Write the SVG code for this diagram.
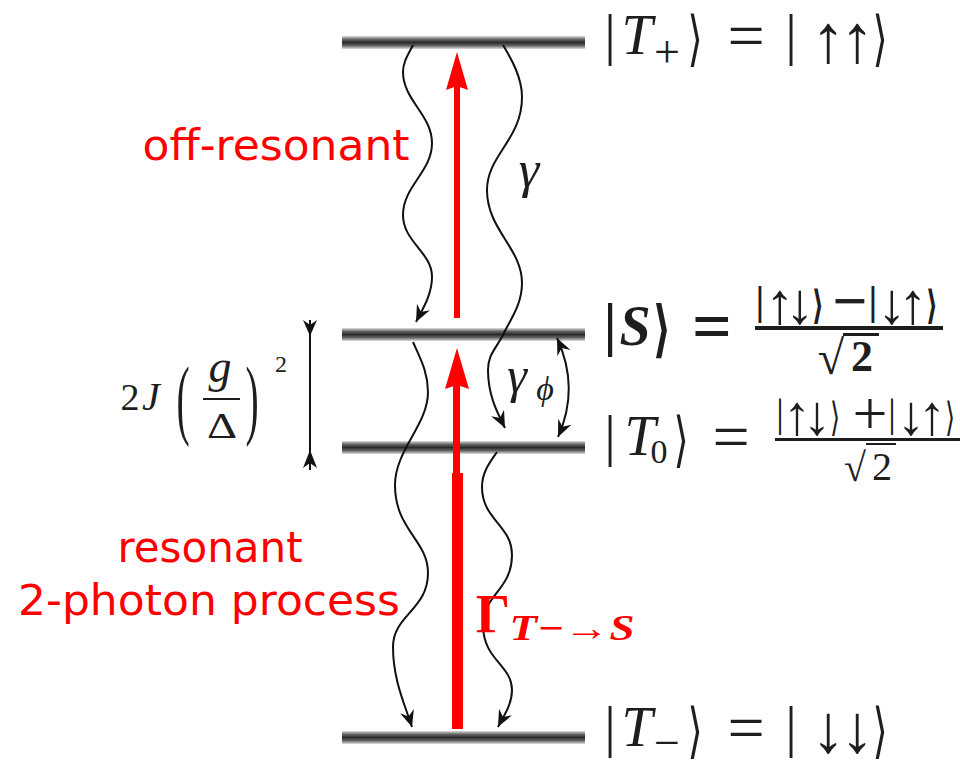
<svg xmlns="http://www.w3.org/2000/svg" width="960" height="760" viewBox="0 0 960 760">
<defs>
<linearGradient id="barg" x1="0" y1="0" x2="0" y2="1">
<stop offset="0" stop-color="#e0e0e0"/>
<stop offset="0.25" stop-color="#666"/>
<stop offset="0.5" stop-color="#2a2a2a"/>
<stop offset="0.75" stop-color="#666"/>
<stop offset="1" stop-color="#e0e0e0"/>
</linearGradient>
<marker id="ah" markerUnits="userSpaceOnUse" markerWidth="20" markerHeight="20" viewBox="-16 -8 18 16" refX="0" refY="0" orient="auto">
<path d="M0,0 L-15,-6.5 L-10,0 L-15,6.5 Z" fill="#111"/>
</marker>
<marker id="ahs" markerUnits="userSpaceOnUse" markerWidth="20" markerHeight="20" viewBox="-16 -8 18 16" refX="0" refY="0" orient="auto-start-reverse">
<path d="M0,0 L-15,-6.5 L-10,0 L-15,6.5 Z" fill="#111"/>
</marker>
</defs>
<style>
.bar{fill:url(#barg)}
.wave{fill:none;stroke:#111;stroke-width:2}
text{text-anchor:middle}
.m{font-family:"Liberation Serif","DejaVu Serif",serif;fill:#1e1e1e}
.br{font-family:"DejaVu Sans",sans-serif;fill:#1e1e1e}
.it{font-style:italic}
.b{font-weight:bold}
.red{font-family:"DejaVu Sans",sans-serif;fill:#ff0000}
.rm{font-family:"Liberation Serif","DejaVu Serif",serif;fill:#ff0000;font-weight:bold}
</style>
<rect width="960" height="760" fill="#fff"/>

<g id="level-Tplus"><rect class="bar" x="342" y="36" width="243" height="13"/></g>
<g id="level-S"><rect class="bar" x="342" y="328" width="243" height="13"/></g>
<g id="level-T0"><rect class="bar" x="342" y="441" width="243" height="13"/></g>
<g id="level-Tminus"><rect class="bar" x="342" y="731" width="243" height="13"/></g>

<g id="connectors">
<path class="wave" marker-end="url(#ah)" d="M413,45 C408,55 403,62 403,72 C403,100 432,115 432,143 C432,172 403,186 403,215 C403,242 432,252 432,277 C432,295 422,310 416,322"/>
<path class="wave" marker-end="url(#ah)" d="M503,45 C512,60 522,78 522,97 C522,140 487,155 487,190 C487,230 522,248 522,283 C522,305 510,320 503,335 C495,350 488,355 488,370 C488,395 497,412 505,428"/>
<path class="wave" marker-end="url(#ah)" d="M413,342 C420,358 428,372 428,392 C428,425 395,450 395,485 C395,530 428,540 428,573 C428,610 393,615 393,647 C393,680 405,705 412,727"/>
<path class="wave" marker-end="url(#ah)" d="M497,452 C490,462 482,472 482,487 C482,520 512,525 512,555 C512,590 483,595 483,625 C483,660 512,665 512,690 C512,705 503,717 498,727"/>
<path class="wave" marker-start="url(#ahs)" marker-end="url(#ahs)" d="M557,338 Q580,388 558,437"/>
<path fill="none" stroke="#111" stroke-width="2" d="M310,320 L310,470"/>
<path fill="#111" d="M310,336 L303,320 L310,325 L317,320 Z"/>
<path fill="#111" d="M310,450 L303,468 L310,463 L317,468 Z"/>
<path fill="none" stroke="#ff0000" stroke-width="6" d="M457,318 L457,85"/>
<path fill="#ff0000" d="M457,52 L468,90 L457,86 L446,90 Z"/>
<path fill="none" stroke="#ff0000" stroke-width="7" d="M456.5,475 L456.5,380"/>
<rect x="452" y="473" width="11" height="256" fill="#ff0000"/>
<path fill="#ff0000" d="M457,348 L469,389 L457,385 L445,389 Z"/>
</g>

<g id="label-Tplus">
<text class="m" x="610" y="54" font-size="58">|</text>
<text class="m it" x="637" y="54" font-size="56">T</text>
<text class="m" x="667" y="67" font-size="46">+</text>
<text class="br" transform="translate(695,59) scale(0.65,1)" font-size="60">⟩</text>
<text class="m" x="746" y="58" font-size="66">=</text>
<text class="m" x="791" y="54" font-size="58">|</text>
<text class="m" x="828" y="62" font-size="68">↑</text>
<text class="m" x="857" y="62" font-size="68">↑</text>
<text class="br" transform="translate(880,59) scale(0.65,1)" font-size="60">⟩</text>
</g>

<g id="label-S">
<text class="m b" x="610" y="344" font-size="60">|</text>
<text class="m b it" x="635" y="345" font-size="56">S</text>
<text class="br b" transform="translate(662,350) scale(0.65,1)" font-size="62">⟩</text>
<text class="m b" x="712" y="350" font-size="70">=</text>
<text class="m b" x="760" y="314" font-size="40">|</text>
<text class="m b" x="780" y="323" font-size="58">↑</text>
<text class="m b" x="800" y="323" font-size="58">↓</text>
<text class="br b" transform="translate(818,319) scale(0.65,1)" font-size="40">⟩</text>
<text class="m b" x="850" y="322" font-size="62">−</text>
<text class="m b" x="873" y="314" font-size="40">|</text>
<text class="m b" x="892" y="323" font-size="58">↓</text>
<text class="m b" x="913" y="323" font-size="58">↑</text>
<text class="br b" transform="translate(932,319) scale(0.65,1)" font-size="40">⟩</text>
<rect x="755" y="326" width="188" height="4" fill="#1e1e1e"/>
<text class="m b" x="831" y="374" font-size="48">√</text>
<text class="m b" x="862" y="371" font-size="44">2</text>
<rect x="843" y="333" width="36" height="3" fill="#1e1e1e"/>
</g>

<g id="label-T0">
<text class="m" x="610" y="455" font-size="58">|</text>
<text class="m it" x="640" y="455" font-size="56">T</text>
<text class="m" x="659" y="463" font-size="34">0</text>
<text class="br" transform="translate(681,460) scale(0.65,1)" font-size="60">⟩</text>
<text class="m" x="731" y="459" font-size="66">=</text>
<text class="m" x="780" y="426" font-size="40">|</text>
<text class="m" x="797" y="434" font-size="56">↑</text>
<text class="m" x="817" y="434" font-size="56">↓</text>
<text class="br" transform="translate(835,431) scale(0.65,1)" font-size="40">⟩</text>
<text class="m" x="870" y="434" font-size="62">+</text>
<text class="m" x="892" y="426" font-size="40">|</text>
<text class="m" x="911" y="434" font-size="56">↓</text>
<text class="m" x="932" y="434" font-size="56">↑</text>
<text class="br" transform="translate(950,431) scale(0.65,1)" font-size="40">⟩</text>
<rect x="775" y="438" width="185" height="3" fill="#1e1e1e"/>
<text class="m" x="855" y="481" font-size="40">√</text>
<text class="m" x="882" y="480" font-size="40">2</text>
<rect x="866" y="443" width="30" height="2" fill="#1e1e1e"/>
</g>

<g id="label-Tminus">
<text class="m" x="610" y="746" font-size="58">|</text>
<text class="m it" x="637" y="746" font-size="56">T</text>
<text class="m" x="667" y="758" font-size="46">−</text>
<text class="br" transform="translate(695,751) scale(0.65,1)" font-size="60">⟩</text>
<text class="m" x="746" y="750" font-size="66">=</text>
<text class="m" x="791" y="746" font-size="58">|</text>
<text class="m" x="828" y="752" font-size="68">↓</text>
<text class="m" x="857" y="752" font-size="68">↓</text>
<text class="br" transform="translate(880,751) scale(0.65,1)" font-size="60">⟩</text>
</g>

<g id="label-offres"><text class="red" x="276" y="160" font-size="42" textLength="267" lengthAdjust="spacingAndGlyphs">off-resonant</text></g>
<g id="label-res" class="red" font-size="42">
<text x="210" y="562">resonant</text>
<text x="209" y="615" textLength="382" lengthAdjust="spacingAndGlyphs">2-photon process</text>
</g>

<g id="label-gamma"><text class="m it" x="529" y="187" font-size="52">γ</text></g>
<g id="label-gammaphi">
<text class="m it" x="517" y="392" font-size="50">γ</text>
<text class="m it" x="545" y="400" font-size="34">ϕ</text>
</g>
<g id="label-Gamma">
<text class="rm" x="493" y="632" font-size="54">Γ</text>
<text class="rm it" x="572" y="640" font-size="36" textLength="125" lengthAdjust="spacingAndGlyphs">T−→S</text>
</g>

<g id="label-2J">
<text class="m" x="130" y="410" font-size="38">2</text>
<text class="m it" x="151" y="410" font-size="40">J</text>
<text class="m" transform="translate(183,428) scale(0.45,1)" font-size="88">(</text>
<text class="m it" x="220" y="382" font-size="46">g</text>
<rect x="203" y="398" width="37" height="2" fill="#1e1e1e"/>
<text class="m" transform="translate(222,438) scale(1.3,1)" font-size="36">Δ</text>
<text class="m" transform="translate(252,428) scale(0.45,1)" font-size="88">)</text>
<text class="m" x="281" y="372" font-size="24">2</text>
</g>
</svg>
